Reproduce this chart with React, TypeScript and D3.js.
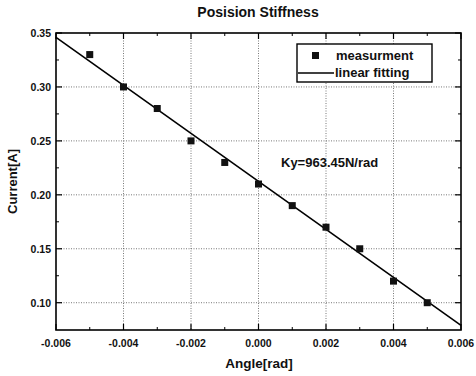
import React from "react";
import * as d3 from "d3";

const angles = [-0.005, -0.004, -0.003, -0.002, -0.001, 0, 0.001, 0.002, 0.003, 0.004, 0.005];
const currents = [0.33, 0.30, 0.28, 0.25, 0.23, 0.21, 0.19, 0.17, 0.15, 0.12, 0.10];
const fitAngles = [-0.006, 0.006];
const fitCurrents = [0.346, 0.079];
const xTicks = [-0.006, -0.004, -0.002, 0, 0.002, 0.004, 0.006];
const yTicks = [0.10, 0.15, 0.20, 0.25, 0.30, 0.35];
const xMinor = [-0.005, -0.003, -0.001, 0.001, 0.003, 0.005];
const yMinor = [0.125, 0.175, 0.225, 0.275, 0.325];

const W = 476, H = 376;
const L = 56, R = 461, T = 33, B = 330;

export default function App() {
  const x = d3.scaleLinear().domain([-0.006, 0.006]).range([L, R]);
  const y = d3.scaleLinear().domain([0.0747, 0.35]).range([B, T]);
  const line = d3.line<number>().x((_, i) => x(fitAngles[i])).y((d) => y(d));
  const font = "Liberation Sans, Arial, sans-serif";
  return (
    <svg width={W} height={H} style={{ position: "absolute", left: 0, top: 0, background: "#fff" }} fontFamily={font}>
      <rect x={0} y={0} width={W} height={H} fill="#fff" />
      {/* grid */}
      {xTicks.slice(1, -1).map((t) => (
        <line key={"gx" + t} x1={x(t)} x2={x(t)} y1={T} y2={B} stroke="#555" strokeWidth={0.8} strokeDasharray="1,1.5" />
      ))}
      {yTicks.slice(0, -1).map((t) => (
        <line key={"gy" + t} x1={L} x2={R} y1={y(t)} y2={y(t)} stroke="#555" strokeWidth={0.8} strokeDasharray="1,1.5" />
      ))}
      {/* frame */}
      <rect x={L} y={T} width={R - L} height={B - T} fill="none" stroke="#000" strokeWidth={1.6} />
      {/* ticks */}
      {xTicks.map((t) => (
        <g key={"tx" + t}>
          <line x1={x(t)} x2={x(t)} y1={B} y2={B - 6} stroke="#000" strokeWidth={1.2} />
          <line x1={x(t)} x2={x(t)} y1={T} y2={T + 6} stroke="#000" strokeWidth={1.2} />
          <text x={x(t)} y={B + 17} textAnchor="middle" fontSize={10.5} fontWeight="bold" fill="#111">
            {d3.format(".3f")(t).replace("−", "-")}
          </text>
        </g>
      ))}
      {xMinor.map((t) => (
        <g key={"mx" + t}>
          <line x1={x(t)} x2={x(t)} y1={B} y2={B - 3} stroke="#000" strokeWidth={1} />
          <line x1={x(t)} x2={x(t)} y1={T} y2={T + 3} stroke="#000" strokeWidth={1} />
        </g>
      ))}
      {yTicks.map((t) => (
        <g key={"ty" + t}>
          <line x1={L} x2={L + 6} y1={y(t)} y2={y(t)} stroke="#000" strokeWidth={1.2} />
          <line x1={R} x2={R - 6} y1={y(t)} y2={y(t)} stroke="#000" strokeWidth={1.2} />
          <text x={L - 5} y={y(t) + 4} textAnchor="end" fontSize={10.5} fontWeight="bold" fill="#111">
            {d3.format(".2f")(t)}
          </text>
        </g>
      ))}
      {yMinor.map((t) => (
        <g key={"my" + t}>
          <line x1={L} x2={L + 3} y1={y(t)} y2={y(t)} stroke="#000" strokeWidth={1} />
          <line x1={R} x2={R - 3} y1={y(t)} y2={y(t)} stroke="#000" strokeWidth={1} />
        </g>
      ))}
      {/* fit line */}
      <path d={line(fitCurrents) || ""} fill="none" stroke="#000" strokeWidth={1.6} />
      {/* points */}
      {angles.map((a, i) => (
        <rect key={"p" + i} x={x(a) - 3.5} y={y(currents[i]) - 3.5} width={7} height={7} fill="#111" />
      ))}
      {/* legend */}
      <rect x={297} y={44} width={135} height={38} fill="#fff" stroke="#000" strokeWidth={1.4} />
      <rect x={312} y={52} width={7} height={7} fill="#111" />
      <text x={336} y={60} fontSize={13} fontWeight="bold" fill="#111">measurment</text>
      <line x1={298} x2={334} y1={73} y2={73} stroke="#000" strokeWidth={1.6} />
      <text x={335} y={77} fontSize={13} fontWeight="bold" fill="#111">linear fitting</text>
      {/* annotation */}
      <text x={281} y={167} fontSize={13} fontWeight="bold" fill="#111">Ky=963.45N/rad</text>
      {/* titles */}
      <text x={258} y={17} textAnchor="middle" fontSize={14} fontWeight="bold" fill="#111">Posision Stiffness</text>
      <text x={259} y={368} textAnchor="middle" fontSize={13.5} fontWeight="bold" fill="#111">Angle[rad]</text>
      <text transform={`translate(17,${(T + B) / 2}) rotate(-90)`} textAnchor="middle" fontSize={13} fontWeight="bold" fill="#111">Current[A]</text>
    </svg>
  );
}
